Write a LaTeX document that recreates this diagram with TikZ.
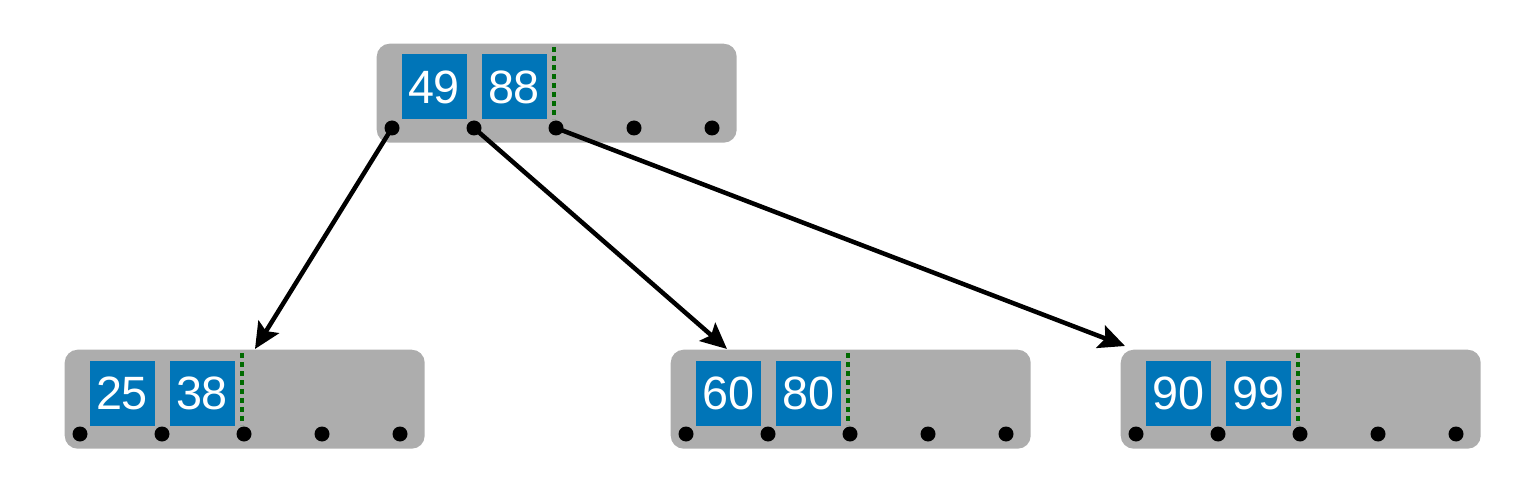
\documentclass[tikz,border=0pt]{standalone}
\usepackage{fontspec}
\setmainfont{Liberation Sans}
\usetikzlibrary{arrows.meta,positioning}
\definecolor{pagegray}{HTML}{ADADAD}
\definecolor{keyblue}{HTML}{0075B8}
\definecolor{fencegreen}{HTML}{006A00}
\newcommand\keyfont{\fontsize{13.3}{15}\selectfont}
\tikzset
{
    bpage/.style = {rectangle, rounded corners=0.13cm, fill=pagegray, minimum width=3.6cm, minimum height=0.99cm, inner sep=0, anchor=north west},
    key/.style   = {rectangle, fill=keyblue, text=white, minimum size=0.65cm, inner sep=0, font=\keyfont},
    ptr/.style   = {circle, fill=black, inner sep=0, minimum size=0.15cm},
    fence/.style = {draw=fencegreen, line width=0.04cm, dash pattern=on 0.05cm off 0.04cm},
    arrow/.style = {line width=0.045cm, -{Stealth[length=0.26cm,width=0.24cm,inset=0.05cm]}}
}

\begin{document}
\begin{tikzpicture}
\useasboundingbox (0,0) rectangle (15.27,-4.94);
\newcommand\btpage[5]{%
  \node(#1) [bpage] at (#2,#3) {};
  \node(#1k1) [key] at ([shift={(0.58,-0.44)}]#1.north west) {#4};
  \node(#1k2) [key] at ([shift={(1.38,-0.44)}]#1.north west) {#5};
  \draw[fence] ([shift={(1.78,-0.04)}]#1.north west) -- ([shift={(1.78,-0.76)}]#1.north west);
  \foreach \i/\dx in {1/0.16,2/0.98,3/1.80,4/2.58,5/3.36}
    \node(#1p\i) [ptr] at ([shift={(\dx,-0.85)}]#1.north west) {};
}
\btpage{root}{3.76}{-0.43}{49}{88}
\btpage{left}{0.64}{-3.49}{25}{38}
\btpage{mid}{6.70}{-3.49}{60}{80}
\btpage{right}{11.20}{-3.49}{90}{99}
\draw[arrow] (rootp1.center) -- ([xshift=1.91cm]left.north west);
\draw[arrow] (rootp2.center) -- ([xshift=0.57cm]mid.north west);
\draw[arrow] (rootp3.center) -- ([shift={(0.05cm,0.03cm)}]right.north west);
\end{tikzpicture}
\end{document}
